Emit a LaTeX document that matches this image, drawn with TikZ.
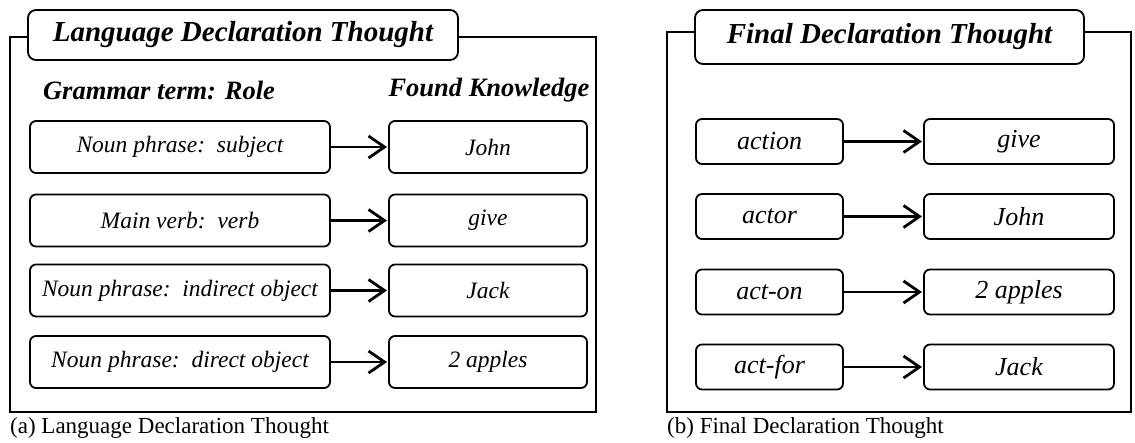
\documentclass[tikz,border=0pt]{standalone}
\usepackage{fontspec}
\setmainfont{Liberation Serif}[
  ItalicFont={Liberation Serif Italic},
  BoldFont={Liberation Serif Bold},
  BoldItalicFont={Liberation Serif Bold Italic}]
\usetikzlibrary{arrows.meta}
\tikzset{
  panel/.style={draw, line width=2pt},
  titlebox/.style={draw, fill=white, line width=1.8pt, rounded corners=8pt, inner sep=0pt, outer sep=0pt,
    font=\fontsize{29}{33}\selectfont\bfseries\itshape},
  head/.style={inner sep=0pt, font=\fontsize{26.5}{30}\selectfont\bfseries\itshape},
  rolebox/.style={draw, line width=1.8pt, rounded corners=6pt, inner sep=0pt, outer sep=0pt,
    font=\fontsize{23.5}{27}\selectfont\itshape},
  slotbox/.style={draw, line width=1.8pt, rounded corners=6pt, inner sep=0pt, outer sep=0pt,
    font=\fontsize{26}{30}\selectfont\itshape},
  link/.style={line width=2.8pt, shorten >=2pt,
    -{Straight Barb[length=16pt, width=22pt, line width=2.8pt]}},
  caption/.style={inner sep=0pt, anchor=west, font=\fontsize{23}{27}\selectfont}
}
\begin{document}
\begin{tikzpicture}[x=1pt, y=-1pt]
\useasboundingbox (0,0) rectangle (1135,442);

% ---------- (a) language declaration thought ----------
\draw[panel] (10,37) rectangle (596,412);
\node[titlebox, minimum width=430pt, minimum height=50pt] (ta) at (243,35) {Language Declaration Thought};
\node[head] (ha) at (159,90) {Grammar term: Role};
\node[head] (hb) at (489,90) {Found Knowledge};

\node[rolebox, minimum width=300pt, minimum height=52pt] (r1) at (180,147) {Noun phrase:\, subject};
\node[rolebox, minimum width=300pt, minimum height=52pt] (r2) at (180,220.5) {Main verb:\, verb};
\node[rolebox, minimum width=300pt, minimum height=52pt] (r3) at (180,290.5) {Noun phrase:\, indirect object};
\node[rolebox, minimum width=300pt, minimum height=52pt] (r4) at (180,362) {Noun phrase:\, direct object};

\node[rolebox, minimum width=198pt, minimum height=52pt] (k1) at (488,147) {John};
\node[rolebox, minimum width=198pt, minimum height=52pt] (k2) at (488,220.5) {give};
\node[rolebox, minimum width=198pt, minimum height=52pt] (k3) at (488,290.5) {Jack};
\node[rolebox, minimum width=198pt, minimum height=52pt] (k4) at (488,362) {2 apples};

\draw[link] (r1) -- (k1);
\draw[link] (r2) -- (k2);
\draw[link] (r3) -- (k3);
\draw[link] (r4) -- (k4);

\node[caption] (ca) at (10,428) {(a) Language Declaration Thought};

% ---------- (b) final declaration thought ----------
\draw[panel] (667,32) rectangle (1131,412);
\node[titlebox, minimum width=389pt, minimum height=54pt] (tb) at (889.5,37) {Final Declaration Thought};

\node[slotbox, minimum width=147pt, minimum height=45pt] (s1) at (769.5,141.5) {action};
\node[slotbox, minimum width=147pt, minimum height=45pt] (s2) at (769.5,216.5) {actor};
\node[slotbox, minimum width=147pt, minimum height=45pt] (s3) at (769.5,292) {act-on};
\node[slotbox, minimum width=147pt, minimum height=45pt] (s4) at (769.5,367) {act-for};

\node[slotbox, minimum width=190pt, minimum height=45pt] (v1) at (1019,141.5) {give};
\node[slotbox, minimum width=190pt, minimum height=45pt] (v2) at (1019,216.5) {John};
\node[slotbox, minimum width=190pt, minimum height=45pt] (v3) at (1019,292) {2 apples};
\node[slotbox, minimum width=190pt, minimum height=45pt] (v4) at (1019,367) {Jack};

\draw[link] (s1) -- (v1);
\draw[link] (s2) -- (v2);
\draw[link] (s3) -- (v3);
\draw[link] (s4) -- (v4);

\node[caption] (cb) at (667,428) {(b) Final Declaration Thought};
\end{tikzpicture}
\end{document}
